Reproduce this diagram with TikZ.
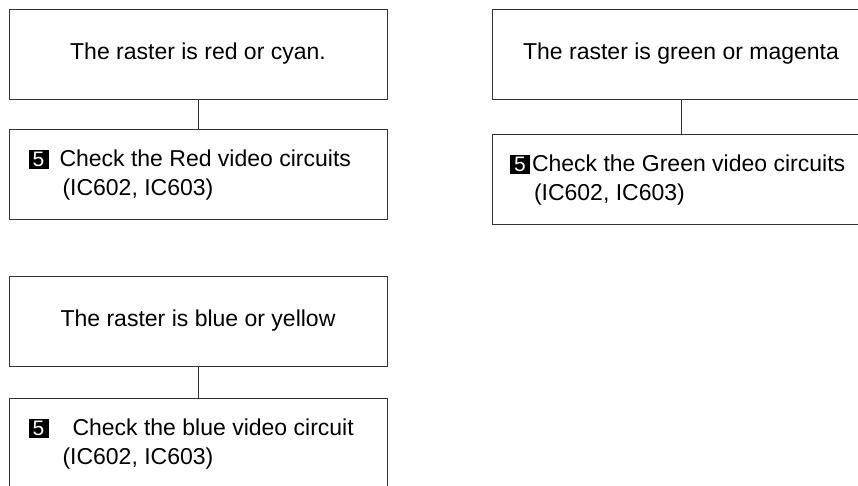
\documentclass[tikz,border=0pt]{standalone}
\usepackage{fontspec}
\setmainfont{Liberation Sans}
\usepackage{xcolor}
\usepackage{tikz}
\usetikzlibrary{positioning}
\definecolor{framegray}{HTML}{333333}
\newcommand{\stepfive}{\raisebox{-2.5pt}{\rlap{\rule{20pt}{19pt}}\makebox[20pt][c]{\raisebox{2.5pt}{\color{white}\fontsize{21}{21}\selectfont 5}}}}

\begin{document}
\begin{tikzpicture}[
  box/.style={rectangle, draw=framegray, line width=0.8pt,
    minimum width=378pt, minimum height=90pt, inner sep=0pt,
    font=\fontsize{23}{29.5}\selectfont},
  checkbox/.style={box, text width=339pt, align=flush left},
  link/.style={draw=framegray, line width=0.8pt},
]
  \useasboundingbox (0,0) rectangle (858pt,-486pt);
  \node[box] (rastercyan) at (198pt,-54pt) {The raster is red or cyan.};
  \node[checkbox, below=30pt of rastercyan] (checkred) {
    \stepfive\hspace{11pt}Check the Red video circuits\\
    \hspace*{34pt}(IC602, IC603)
  };
  \node[box] (rastermagenta) at (681pt,-54pt) {The raster is green or magenta};
  \node[checkbox, text width=342pt, below=35pt of rastermagenta] (checkgreen) {
    \stepfive\hspace{2pt}Check the Green video circuits\\
    \hspace*{24pt}(IC602, IC603)
  };
  \node[box] (rasteryellow) at (198pt,-321pt) {The raster is blue or yellow};
  \node[checkbox, below=32pt of rasteryellow] (checkblue) {
    \stepfive\hspace{24pt}Check the blue video circuit\\
    \hspace*{34pt}(IC602, IC603)
  };
  \draw[link] (rastercyan) -- (checkred);
  \draw[link] (rastermagenta) -- (checkgreen);
  \draw[link] (rasteryellow) -- (checkblue);
\end{tikzpicture}
\end{document}
